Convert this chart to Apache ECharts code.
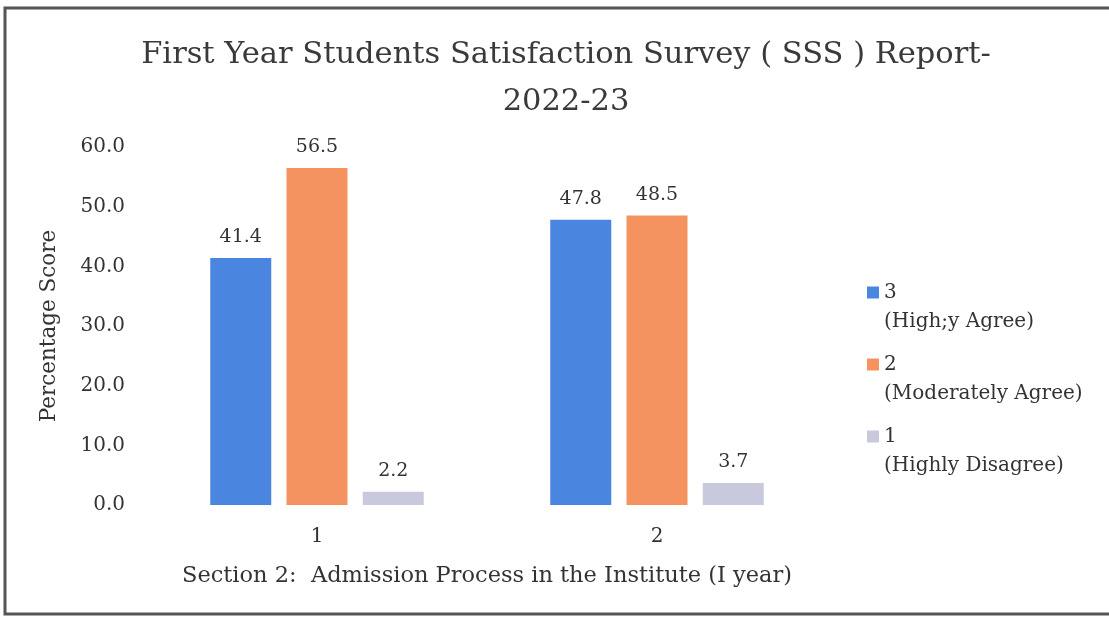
<!DOCTYPE html>
<html>
    <head>
        <meta charset="utf-8">
        <script src="https://cdn.jsdelivr.net/npm/echarts@6/dist/echarts.min.js"></script>
    </head>
    <body>
        <style>
            html, body {
                margin: 0;
                padding: 0;
                background: #fff;
            }
            #main {
                width: 1109px;
                height: 622px;
            }
        </style>
        <div id="main"></div>
        <script>
            // values
            var categories = ['1', '2'];
            var seriesNames = ['3', '2', '1'];
            var seriesNotes = ['(High;y Agree)', '(Moderately Agree)', '(Highly Disagree)'];
            var highlyAgree = [41.4, 47.8];
            var moderatelyAgree = [56.5, 48.5];
            var highlyDisagree = [2.2, 3.7];
            var yTicks = [0, 10, 20, 30, 40, 50, 60];

            var colors = ['#4a86df', '#f4935f', '#c9c9de'];
            var font = '"DejaVu Serif", serif';

            var chart = echarts.init(document.getElementById('main'));

            var seriesData = [highlyAgree, moderatelyAgree, highlyDisagree];
            var series = seriesData.map(function (d, i) {
                return {
                    name: seriesNames[i],
                    type: 'bar',
                    data: d,
                    barWidth: 61,
                    barGap: '25%',
                    itemStyle: { color: colors[i] },
                    label: {
                        show: true,
                        position: 'top',
                        distance: 11,
                        color: '#333',
                        fontFamily: font,
                        fontSize: 19,
                        formatter: function (p) { return p.value.toFixed(1); }
                    }
                };
            });

            chart.setOption({
                animation: false,
                color: colors,
                title: {
                    text: 'First Year Students Satisfaction Survey ( SSS ) Report-\n2022-23',
                    left: 561,
                    textAlign: 'center',
                    top: 27,
                    textStyle: {
                        fontFamily: font,
                        fontSize: 30.5,
                        fontWeight: 'normal',
                        color: '#3a3a3a',
                        lineHeight: 47
                    }
                },
                legend: {
                    orient: 'vertical',
                    left: 862,
                    top: 244,
                    itemWidth: 12,
                    itemHeight: 12,
                    itemGap: -15,
                    icon: 'rect',
                    data: seriesNames,
                    // leading blank line keeps the icon level with the first text line
                    formatter: function (name) {
                        return '\n' + name + '\n' + seriesNotes[seriesNames.indexOf(name)];
                    },
                    textStyle: {
                        fontFamily: font,
                        fontSize: 20,
                        color: '#333',
                        lineHeight: 29
                    }
                },
                grid: {
                    left: 147,
                    right: 282,
                    top: 147,
                    bottom: 117
                },
                xAxis: {
                    type: 'category',
                    data: categories,
                    name: 'Section 2:  Admission Process in the Institute (I year)',
                    nameLocation: 'middle',
                    nameGap: 60,
                    nameTextStyle: {
                        fontFamily: font,
                        fontSize: 22.5,
                        color: '#333'
                    },
                    axisLine: { show: false },
                    axisTick: { show: false },
                    axisLabel: {
                        margin: 22,
                        fontFamily: font,
                        fontSize: 20,
                        color: '#333'
                    }
                },
                yAxis: {
                    type: 'value',
                    min: yTicks[0],
                    max: yTicks[yTicks.length - 1],
                    interval: 10,
                    name: 'Percentage Score',
                    nameLocation: 'middle',
                    nameGap: 87,
                    nameTextStyle: {
                        fontFamily: font,
                        fontSize: 21.5,
                        color: '#333'
                    },
                    splitLine: { show: false },
                    axisLine: { show: false },
                    axisTick: { show: false },
                    axisLabel: {
                        margin: 22,
                        fontFamily: font,
                        fontSize: 20,
                        color: '#333',
                        formatter: function (v) { return v.toFixed(1); }
                    }
                },
                graphic: [{
                    type: 'rect',
                    shape: { x: 5, y: 8, width: 1120, height: 606 },
                    style: { fill: null, stroke: '#555', lineWidth: 3 },
                    silent: true
                }],
                series: series
            });
        </script>
    </body>
</html>
